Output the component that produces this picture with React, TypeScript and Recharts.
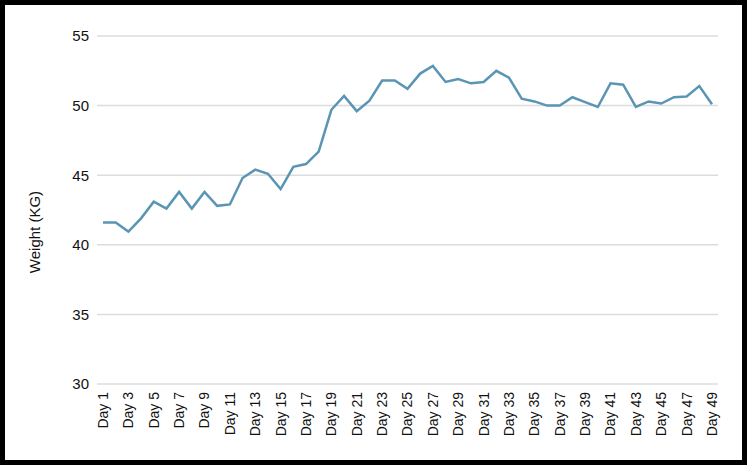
import React from 'react';
import { LineChart, Line, XAxis, YAxis, CartesianGrid, Label } from 'recharts';

const days = Array.from({ length: 49 }, (_, i) => `Day ${i + 1}`);

const weights = [
  41.6, 41.6, 40.95, 41.9, 43.1, 42.6, 43.8, 42.6, 43.8, 42.8,
  42.9, 44.8, 45.4, 45.1, 44.0, 45.6, 45.8, 46.7, 49.7, 50.7,
  49.6, 50.35, 51.8, 51.8, 51.2, 52.3, 52.85, 51.7, 51.9, 51.6,
  51.7, 52.5, 52.0, 50.5, 50.3, 50.0, 50.0, 50.6, 50.25, 49.9,
  51.6, 51.5, 49.9, 50.3, 50.15, 50.6, 50.65, 51.4, 50.1,
];

const yTicks = [30, 35, 40, 45, 50, 55];

const data = days.map((day, i) => ({ day, weight: weights[i] }));

const font = '"Liberation Sans", Arial, sans-serif';
const textColor = '#111';

function DayTick({ x, y, payload }: any) {
  return (
    <text
      x={x}
      y={y}
      dy="0.35em"
      textAnchor="end"
      transform={`rotate(-90, ${x}, ${y})`}
      fill={textColor}
      fontSize={14}
      fontFamily={font}
    >
      {payload.value}
    </text>
  );
}

export default function App() {
  return (
    <div
      style={{
        position: 'absolute',
        top: 0,
        left: 0,
        width: 747,
        height: 465,
        boxSizing: 'border-box',
        border: '5px solid #000',
        background: '#fff',
      }}
    >
      <LineChart
        width={737}
        height={455}
        data={data}
        margin={{ top: 31, right: 24, left: 0, bottom: 0 }}
      >
        <CartesianGrid vertical={false} stroke="#dcdcdc" strokeWidth={1.5} />
        <XAxis
          dataKey="day"
          interval={1}
          axisLine={false}
          tickLine={false}
          height={76}
          padding={{ left: 6, right: 6 }}
          tick={<DayTick />}
        />
        <YAxis
          width={92}
          domain={[30, 55]}
          ticks={yTicks}
          axisLine={false}
          tickLine={false}
          tick={{ fill: textColor, fontSize: 15, fontFamily: font }}
        >
          <Label
            content={() => {
              const cy = 227;
              return (
                <text
                  x={30}
                  y={cy}
                  textAnchor="middle"
                  dy="0.35em"
                  transform={`rotate(-90, 30, ${cy})`}
                  fill={textColor}
                  fontSize={15}
                  fontFamily={font}
                >
                  Weight (KG)
                </text>
              );
            }}
          />
        </YAxis>
        <Line
          type="linear"
          dataKey="weight"
          stroke="#5a95b4"
          strokeWidth={2.5}
          dot={false}
          isAnimationActive={false}
        />
      </LineChart>
    </div>
  );
}
